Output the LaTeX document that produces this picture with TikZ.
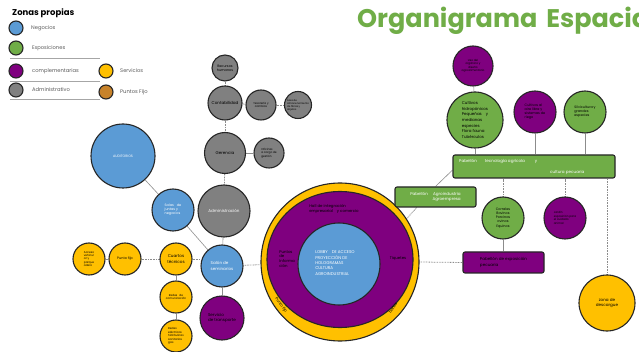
\documentclass[tikz,border=0pt]{standalone}
\usepackage{fontspec}
\setmainfont{Poppins}
\usetikzlibrary{calc,backgrounds,shapes.geometric}
\definecolor{cblue}{HTML}{5B9BD5}
\definecolor{cgreen}{HTML}{70AD47}
\definecolor{cpurple}{HTML}{7F007F}
\definecolor{cgray}{HTML}{808080}
\definecolor{cyellow}{HTML}{FFC000}
\definecolor{corange}{HTML}{C8832A}
\definecolor{cedge}{HTML}{262626}
\definecolor{cline}{HTML}{8C8C8C}
\definecolor{clegtext}{HTML}{595959}
\begin{document}
\begin{tikzpicture}[x=1pt,y=-1pt,
  nd/.style={circle,draw=cedge,line width=1.1pt,inner sep=0pt,align=center,minimum size=#1},
  bl/.style={nd=#1,fill=cblue,text=white},
  gr/.style={nd=#1,fill=cgreen,text=black},
  pu/.style={nd=#1,fill=cpurple,text=black},
  gy/.style={nd=#1,fill=cgray,text=black},
  ye/.style={nd=#1,fill=cyellow,text=black},
  bx/.style={draw=cedge,line width=1.1pt,rounded corners=2pt,inner sep=0pt},
  dl/.style={draw=cline,line width=0.8pt,dash pattern=on 0.8pt off 0.8pt},
  sl/.style={draw=cline,line width=0.6pt},
  fa/.style={font=\fontsize{2.8}{3.4}\selectfont},
  fb/.style={font=\fontsize{3.4}{4.1}\selectfont},
  fc/.style={font=\fontsize{4.1}{5.2}\selectfont},
  legtxt/.style={font=\fontsize{5.2}{6}\selectfont,text=clegtext,inner sep=0pt},
  legline/.style={draw=gray!70,line width=0.6pt}]
\useasboundingbox (0,0) rectangle (639,352);
\clip (0,0) rectangle (639,352);

% title
\node[anchor=base west,text=cgreen,inner sep=0pt,font=\fontsize{25.5}{30}\selectfont\bfseries] (title) at (357,28) {Organigrama\hspace{9pt}Espacial};

% legend
\node[anchor=west,inner sep=0pt,font=\fontsize{8.5}{10}\selectfont\bfseries] (legt) at (12,13) {Zonas propias};
\node[nd=14,fill=cblue] (lg1) at (16,28) {};
\node[anchor=west,legtxt] (lt1) at (31,28) {Negocios};
\node[nd=14,fill=cgreen] (lg2) at (16,48) {};
\node[anchor=west,legtxt] (lt2) at (32,48) {Exposiciones};
\node[nd=14,fill=cpurple] (lg3) at (16,71) {};
\node[anchor=west,legtxt] (lt3) at (32,71) {complementarias};
\node[nd=14,fill=cgray] (lg4) at (16,90) {};
\node[anchor=west,legtxt] (lt4) at (32,90) {Administrativo};
\node[nd=14,fill=cyellow] (lg5) at (106,71) {};
\node[anchor=west,legtxt] (lt5) at (120,71) {Servicios};
\node[nd=14,fill=corange] (lg6) at (106,92) {};
\node[anchor=west,legtxt] (lt6) at (120,92) {Puntos Fijo};
\draw[legline] (10,58) -- (100,58);
\draw[legline] (10,81) -- (100,81);
\draw[legline] (10,99) -- (100,99);

% administrative (gray)
\node[gy=26,fb] (rh) at (225,68) {Recursos\\humanos};
\node[gy=34,fc] (cont) at (225,103) {Contabilidad};
\node[gy=30,fa] (tes) at (261,105) {Tesorería y\\cambios};
\node[gy=27,font=\fontsize{2.5}{3}\selectfont,align=left] (alm) at (298,105) {Área de\\almacenamiento\\de fibras y\\objetos};
\node[gy=41,fc] (ger) at (225,153) {Gerencia};
\node[gy=30,fa,align=left] (ofi) at (269,153) {Oficinas\\a cargo de\\gestión};
\node[gy=52,fc,text=white] (adm) at (224,211) {Administración};

% business (blue)
\node[bl=64,fb] (aud) at (123,156) {AUDITORIOS};
\node[bl=42,fb,align=left] (salas) at (173,210) {Salas\hspace{3pt}de\\juntas y\\negocios};
\node[bl=42,fc,align=left] (salon) at (222,266) {Salón de\\seminarios};

% services (yellow)
\node[ye=32,fa,align=left] (acc) at (89,259) {Acceso\\vehicul\\ar y\\parque\\adero};
\node[ye=32,fb] (pf) at (125,259) {Punto fijo};
\node[ye=32,fc] (cuartos) at (176,259) {Cuartos\\técnicos};
\node[ye=32,fa] (redc) at (176,297) {Redes\hspace{2pt}de\\comunicación};
\node[ye=32,fa,align=left] (rede) at (176,336) {Redes\\eléctricas\\hidráulicas\\sanitarias\\gas};
\node[pu=44,fc,align=left] (serv) at (222,318) {Servicio\\de transporte};

% central ring
\node[nd=158,fill=cyellow] (ring) at (340,262) {};
\node[ellipse,draw=cedge,line width=1.1pt,fill=cpurple,minimum width=146,minimum height=136,inner sep=0pt] (pring) at (340,259.5) {};
\node[nd=82,fill=cblue] (lobby) at (339,264) {};
\node[font=\fontsize{4.1}{5.4}\selectfont,text=white,align=left,inner sep=0pt] (lobbyt) at (335,263) {LOBBY\hspace{3pt} DE ACCESO\\PROYECCIÓN DE\\HOLOGRAMAS\\CULTURA\\AGROINDUSTRIAL};
\node[font=\fontsize{3.9}{5}\selectfont,align=left,inner sep=0pt] (hall) at (334,209) {Hall de integración\\empresarial\hspace{3pt} y comercio};
\node[font=\fontsize{3.9}{4.8}\selectfont,align=left,inner sep=0pt] (pinfo) at (287,259) {Puntos\\de\\Informa\\ción};
\node[font=\fontsize{3.9}{4.8}\selectfont,inner sep=0pt] (tiq) at (398,259) {Tiquetes};
\node[font=\fontsize{3.9}{4.8}\selectfont,inner sep=0pt,rotate=-55] (pfijo) at (281,305) {Punto fijo};
\node[font=\fontsize{3.9}{4.8}\selectfont,inner sep=0pt,rotate=58] (banos) at (393,308) {baños};

% exhibitions (right)
\node[pu=40,fa] (uso) at (473,66) {Uso del\\orgánico y\\diseño\\agroalimentario};
\node[gr=56,font=\fontsize{4}{5.6}\selectfont,align=left] (hidro) at (475,120) {Cultivos\\hidropónicos\\Pequeñas\hspace{3pt} y\\medianas\\especies\\Flora fauna\\Tubérculos};
\node[pu=42,fb,align=left] (aire) at (535,112) {Cultivos al\\aire libre y\\sistemas de\\riego};
\node[gr=42,fb,align=left] (silv) at (585,112) {Silvicultura y\\grandes\\especies};
\node[bx,fill=cgreen,minimum width=162,minimum height=23] (tec) at (534,166.5) {};
\node[anchor=west,inner sep=0pt,fc,text=white] (tec1) at (459,161) {Pabellón\hspace{8pt}tecnología agrícola\hspace{10pt}y};
\node[anchor=west,inner sep=0pt,fc,text=white] (tec2) at (550,172.5) {cultura pecuaria};
\node[bx,fill=cgreen,minimum width=81,minimum height=20,fc,text=white,align=right] (agro) at (435.5,197) {Pabellón\hspace{4pt} Agroindustria\\Agroempresa};
\node[gr=42,fb] (corr) at (503,218) {Corrales\\Bovinos\\Porcinos\\ovinos\\Equinos};
\node[pu=42,fa,align=left] (jard) at (565,218) {Jardín\\exposición para\\el cuidado\\animal};
\node[bx,fill=cpurple,minimum width=81,minimum height=21,fc,align=left] (pec) at (503.5,262.5) {Pabellón de exposición\\pecuaria};
\node[ye=56,fc] (zona) at (607,303) {zona de\\descargue};

% connectors
\begin{pgfonlayer}{background}
\draw[dl] (rh) -- (cont);
\draw[dl] (cont) -- (ger);
\draw[sl] (cont) -- (tes);
\draw[dl] (tes) -- (alm);
\draw[sl] (ger) -- (ofi);
\draw[dl] (ger) -- (adm);
\draw[sl] (aud) -- (salas);
\draw[sl] (salas) -- (salon);
\draw[sl] (adm) -- (salon);
\draw[sl] (acc) -- (pf);
\draw[dl] (pf) -- (cuartos);
\draw[dl] (cuartos.east) -- (cuartos.east -| salon.west);
\draw[dl] (salon) -- (ring);
\draw[sl] (cuartos) -- (redc);
\draw[sl] (redc) -- (rede);
\draw[sl] (salon) -- (serv);
\draw[sl] (uso) -- (hidro);
\draw[sl] (hidro) -- (hidro |- tec.north);
\draw[sl] (aire) -- (aire |- tec.north);
\draw[sl] (silv) -- (silv |- tec.north);
\draw[dl] (corr) -- (corr |- tec.south);
\draw[dl] (jard) -- (jard |- tec.south);
\draw[dl] (zona) -- (zona |- tec.south);
\draw[sl] (corr) -- (corr |- pec.north);
\draw[dl] (ring.east) -- (pec.west);
\draw[dl] ($(agro.south west)!0.27!(agro.south east)$) -- (ring.33);
\draw[sl] (agro.north) -- ($(tec.south west)!0.35!(tec.north west)$);
\end{pgfonlayer}
\end{tikzpicture}
\end{document}
